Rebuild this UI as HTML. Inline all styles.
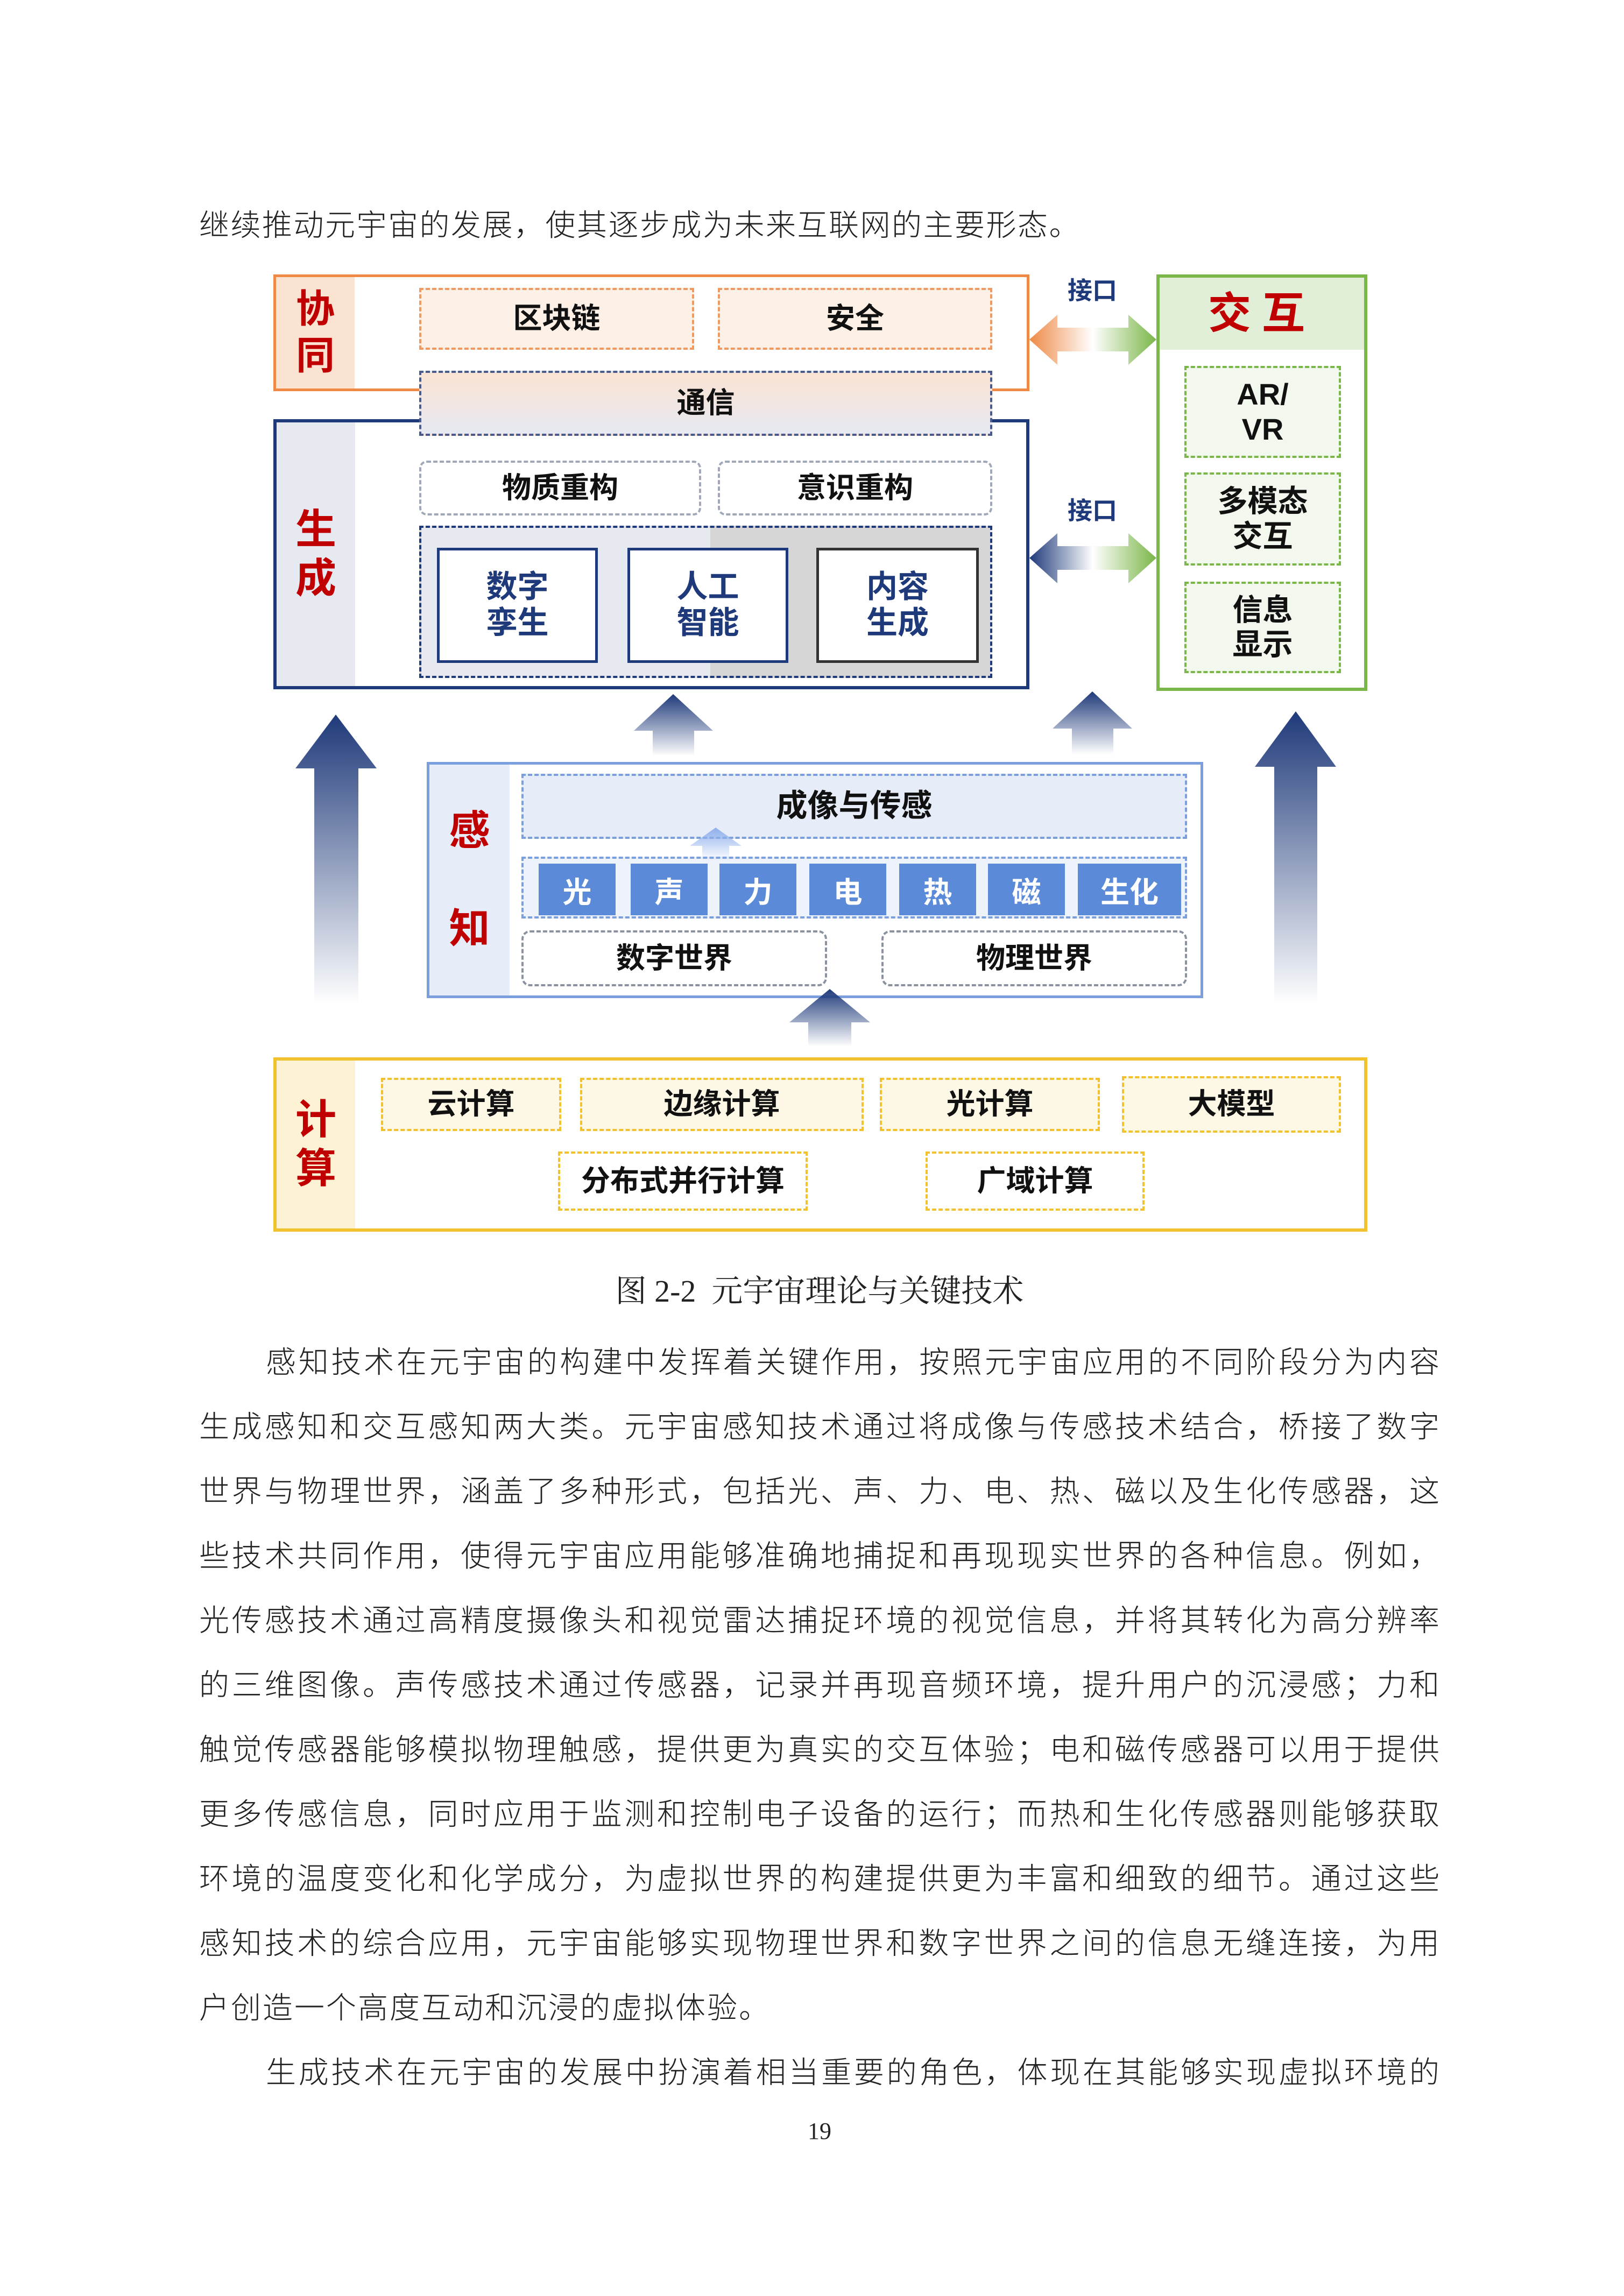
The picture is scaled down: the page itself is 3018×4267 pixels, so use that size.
<!DOCTYPE html>
<html><head><meta charset="utf-8">
<style>
*{margin:0;padding:0;box-sizing:border-box}
body{width:3018px;height:4267px;background:#fff;position:relative;overflow:hidden;font-family:"Liberation Sans","Noto Sans CJK SC",sans-serif}
.a{position:absolute}
.b{position:absolute;display:flex;align-items:center;justify-content:center;text-align:center;font-weight:bold;color:#111;font-size:54px;line-height:1.15}
.side{position:absolute;display:flex;flex-direction:column;align-items:center;justify-content:center;color:#c00000;font-weight:bold;font-size:76px;line-height:1.2}
.t{position:absolute;left:370px;width:2305px;font-family:"Liberation Serif","Noto Sans CJK SC",sans-serif;font-weight:300;font-size:56px;color:#222;text-align:justify;text-align-last:justify;height:80px;line-height:80px;white-space:nowrap}
.t.n{text-align-last:left}
.t.i{padding-left:124px}
.cell{position:absolute;top:1605px;height:96px;background:#5b8bd8;color:#fff;font-weight:bold;font-size:54px;display:flex;align-items:center;justify-content:center}
</style></head><body>

<div class="t n" style="top:380px;letter-spacing:2.5px">继续推动元宇宙的发展，使其逐步成为未来互联网的主要形态。</div>

<!-- 协同 -->
<div class="a" style="left:508px;top:510px;width:1405px;height:217px;border:5px solid #ee8a46;background:#fff"></div>
<div class="side" style="left:513px;top:515px;width:146px;height:207px;background:#fbe3d2;font-size:72px">协<br>同</div>
<div class="b" style="left:779px;top:535px;width:511px;height:115px;border:4px dashed #ee9a60;background:#fdf0e6">区块链</div>
<div class="b" style="left:1334px;top:535px;width:510px;height:115px;border:4px dashed #ee9a60;background:#fdf0e6">安全</div>

<!-- 生成 -->
<div class="a" style="left:508px;top:779px;width:1405px;height:502px;border:6px solid #1f3a7a;background:#fff"></div>
<div class="side" style="left:514px;top:785px;width:146px;height:490px;background:#e6e9f0">生<br>成</div>
<div class="b" style="left:779px;top:689px;width:1065px;height:121px;border:4px dashed #4a5a8a;background:linear-gradient(#fbe3d2,#e6e9f2)">通信</div>
<div class="b" style="left:779px;top:856px;width:524px;height:102px;border:4px dashed #a0a8b8;border-radius:14px">物质重构</div>
<div class="b" style="left:1334px;top:856px;width:510px;height:102px;border:4px dashed #a0a8b8;border-radius:14px">意识重构</div>
<div class="a" style="left:779px;top:977px;width:1065px;height:283px;border:4px dashed #1f3a7a;background:linear-gradient(90deg,#e6e9f0 0,#e6e9f0 50.8%,#d6d6d6 50.8%)"></div>
<div class="b" style="left:812px;top:1018px;width:299px;height:214px;border:5px solid #1f3a7a;background:#fff;color:#1f3a7a;font-size:58px">数字<br>孪生</div>
<div class="b" style="left:1166px;top:1018px;width:299px;height:214px;border:5px solid #1f3a7a;background:#fff;color:#1f3a7a;font-size:58px">人工<br>智能</div>
<div class="b" style="left:1517px;top:1018px;width:302px;height:214px;border:5px solid #333;background:#fff;color:#1f3a7a;font-size:58px">内容<br>生成</div>

<!-- 交互 -->
<div class="a" style="left:2149px;top:510px;width:392px;height:774px;border:6px solid #7ab648;background:#fff"></div>
<div class="b" style="left:2155px;top:516px;width:380px;height:134px;background:#e2efd8;color:#c00000;font-size:80px;letter-spacing:20px">交互</div>
<div class="b" style="left:2201px;top:680px;width:291px;height:171px;border:4px dashed #7ab648;background:#f2f8ee;font-size:56px">AR/<br>VR</div>
<div class="b" style="left:2201px;top:878px;width:291px;height:173px;border:4px dashed #7ab648;background:#f2f8ee;font-size:56px">多模态<br>交互</div>
<div class="b" style="left:2201px;top:1081px;width:291px;height:170px;border:4px dashed #7ab648;background:#f2f8ee;font-size:56px">信息<br>显示</div>

<div class="b" style="left:1960px;top:505px;width:140px;height:70px;color:#1f3a7a;font-size:46px">接口</div>
<div class="b" style="left:1960px;top:914px;width:140px;height:70px;color:#1f3a7a;font-size:46px">接口</div>

<!-- 感知 -->
<div class="a" style="left:793px;top:1416px;width:1443px;height:439px;border:5px solid #7a9fdc;background:#fff"></div>
<div class="side" style="left:798px;top:1421px;width:149px;height:429px;background:#e6ecf8">感<br><br>知</div>
<div class="b" style="left:969px;top:1438px;width:1237px;height:121px;border:4px dashed #7a9fdc;background:#e6ecf8;font-size:58px">成像与传感</div>
<div class="a" style="left:969px;top:1592px;width:1237px;height:115px;border:4px dashed #7a9fdc;background:#eef2fa"></div>
<div class="cell" style="left:1001px;width:143px">光</div>
<div class="cell" style="left:1172px;width:143px">声</div>
<div class="cell" style="left:1337px;width:143px">力</div>
<div class="cell" style="left:1504px;width:143px">电</div>
<div class="cell" style="left:1671px;width:143px">热</div>
<div class="cell" style="left:1836px;width:143px">磁</div>
<div class="cell" style="left:2003px;width:192px">生化</div>
<div class="b" style="left:969px;top:1729px;width:568px;height:104px;border:4px dashed #8a92a0;border-radius:16px">数字世界</div>
<div class="b" style="left:1638px;top:1729px;width:568px;height:104px;border:4px dashed #8a92a0;border-radius:16px">物理世界</div>

<!-- 计算 -->
<div class="a" style="left:508px;top:1965px;width:2033px;height:324px;border:6px solid #f2c12e;background:#fff"></div>
<div class="side" style="left:514px;top:1971px;width:146px;height:312px;background:#fdf2d4">计<br>算</div>
<div class="b" style="left:708px;top:2003px;width:335px;height:99px;border:4px dashed #f2c12e;background:#fdf7e6">云计算</div>
<div class="b" style="left:1078px;top:2003px;width:527px;height:99px;border:4px dashed #f2c12e;background:#fdf7e6">边缘计算</div>
<div class="b" style="left:1635px;top:2003px;width:409px;height:99px;border:4px dashed #f2c12e;background:#fdf7e6">光计算</div>
<div class="b" style="left:2085px;top:2000px;width:407px;height:105px;border:4px dashed #f2c12e;background:#fdf7e6">大模型</div>
<div class="b" style="left:1037px;top:2140px;width:464px;height:110px;border:4px dashed #f2c12e;background:#fff">分布式并行计算</div>
<div class="b" style="left:1720px;top:2140px;width:407px;height:110px;border:4px dashed #f2c12e;background:#fff">广域计算</div>

<svg class="a" style="left:0;top:0" width="3018" height="2300">
<defs>
<linearGradient id="up" x1="0" y1="0" x2="0" y2="1"><stop offset="0" stop-color="#1f3a7a"/><stop offset="1" stop-color="#1f3a7a" stop-opacity="0"/></linearGradient>
<linearGradient id="ho" x1="0" y1="0" x2="1" y2="0"><stop offset="0" stop-color="#ee8a46"/><stop offset=".5" stop-color="#fff"/><stop offset="1" stop-color="#7ab648"/></linearGradient>
<linearGradient id="hn" x1="0" y1="0" x2="1" y2="0"><stop offset="0" stop-color="#1f3a7a"/><stop offset=".5" stop-color="#fff"/><stop offset="1" stop-color="#7ab648"/></linearGradient>
<linearGradient id="sm" x1="0" y1="0" x2="0" y2="1"><stop offset="0" stop-color="#8fb0ec"/><stop offset="1" stop-color="#8fb0ec" stop-opacity="0"/></linearGradient>
</defs>
<path d="M624 1328 L700 1428 L666 1428 L666 1866 L584 1866 L584 1428 L549 1428 Z" fill="url(#up)"/>
<path d="M2408 1322 L2483 1425 L2448 1425 L2448 1866 L2368 1866 L2368 1425 L2332 1425 Z" fill="url(#up)"/>
<path d="M1251 1290 L1325 1358 L1290 1358 L1290 1405 L1213 1405 L1213 1358 L1178 1358 Z" fill="url(#up)"/>
<path d="M2030 1285 L2104 1354 L2069 1354 L2069 1402 L1992 1402 L1992 1354 L1956 1354 Z" fill="url(#up)"/>
<path d="M1542 1838 L1617 1900 L1582 1900 L1582 1945 L1502 1945 L1502 1900 L1467 1900 Z" fill="url(#up)"/>
<path d="M1330 1538 L1378 1572 L1355 1572 L1355 1600 L1305 1600 L1305 1572 L1282 1572 Z" fill="url(#sm)"/>
<path d="M1913 631 L1965 585 L1965 609 L2097 609 L2097 585 L2149 631 L2097 678 L2097 653 L1965 653 L1965 678 Z" fill="url(#ho)"/>
<path d="M1913 1037 L1965 991 L1965 1015 L2097 1015 L2097 991 L2149 1037 L2097 1084 L2097 1059 L1965 1059 L1965 1084 Z" fill="url(#hn)"/>
</svg>

<div class="a" style="left:0;top:2360px;width:3046px;text-align:center;font-family:'Liberation Serif','Noto Serif CJK SC',serif;font-size:58px;color:#222;line-height:80px">图 2-2&nbsp;&nbsp;元宇宙理论与关键技术</div>

<div class="t i" style="top:2493px">感知技术在元宇宙的构建中发挥着关键作用，按照元宇宙应用的不同阶段分为内容</div>
<div class="t" style="top:2613px">生成感知和交互感知两大类。元宇宙感知技术通过将成像与传感技术结合，桥接了数字</div>
<div class="t" style="top:2733px">世界与物理世界，涵盖了多种形式，包括光、声、力、电、热、磁以及生化传感器，这</div>
<div class="t" style="top:2853px">些技术共同作用，使得元宇宙应用能够准确地捕捉和再现现实世界的各种信息。例如，</div>
<div class="t" style="top:2973px">光传感技术通过高精度摄像头和视觉雷达捕捉环境的视觉信息，并将其转化为高分辨率</div>
<div class="t" style="top:3093px">的三维图像。声传感技术通过传感器，记录并再现音频环境，提升用户的沉浸感；力和</div>
<div class="t" style="top:3213px">触觉传感器能够模拟物理触感，提供更为真实的交互体验；电和磁传感器可以用于提供</div>
<div class="t" style="top:3333px">更多传感信息，同时应用于监测和控制电子设备的运行；而热和生化传感器则能够获取</div>
<div class="t" style="top:3453px">环境的温度变化和化学成分，为虚拟世界的构建提供更为丰富和细致的细节。通过这些</div>
<div class="t" style="top:3573px">感知技术的综合应用，元宇宙能够实现物理世界和数字世界之间的信息无缝连接，为用</div>
<div class="t n" style="top:3693px;letter-spacing:3px">户创造一个高度互动和沉浸的虚拟体验。</div>
<div class="t i" style="top:3813px">生成技术在元宇宙的发展中扮演着相当重要的角色，体现在其能够实现虚拟环境的</div>

<div class="a" style="left:0;top:3935px;width:3046px;text-align:center;font-family:'Liberation Serif',serif;font-size:44px;color:#222">19</div>
</body></html>
